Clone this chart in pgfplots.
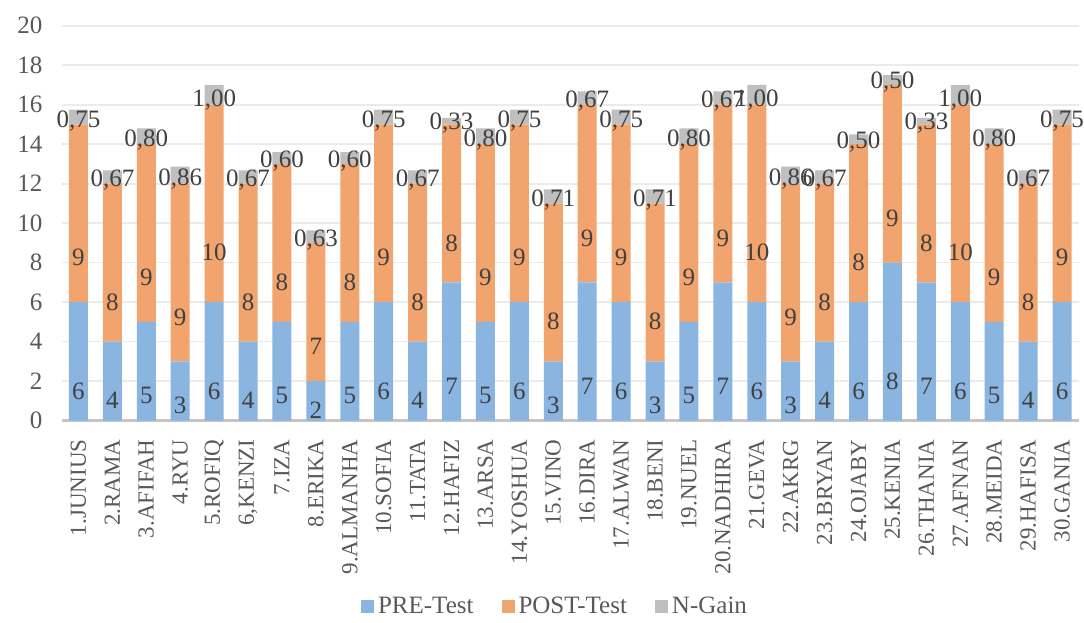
\documentclass[border=0pt]{standalone}
\usepackage{pgfplots}
\usepackage{pgfplotstable}
\pgfplotsset{compat=1.18}
\usepackage{fontspec}
\setmainfont{Liberation Serif}
\definecolor{cpre}{RGB}{139,181,225}
\definecolor{cpost}{RGB}{241,164,110}
\definecolor{cgain}{RGB}{191,191,191}
\definecolor{lbl}{RGB}{64,64,64}
\definecolor{tck}{RGB}{89,89,89}
\definecolor{grd}{RGB}{235,235,235}
\pgfplotstableread{
x pre post gain
0 6 9 0.75
1 4 8 0.67
2 5 9 0.80
3 3 9 0.86
4 6 10 1.00
5 4 8 0.67
6 5 8 0.60
7 2 7 0.63
8 5 8 0.60
9 6 9 0.75
10 4 8 0.67
11 7 8 0.33
12 5 9 0.80
13 6 9 0.75
14 3 8 0.71
15 7 9 0.67
16 6 9 0.75
17 3 8 0.71
18 5 9 0.80
19 7 9 0.67
20 6 10 1.00
21 3 9 0.86
22 4 8 0.67
23 6 8 0.50
24 8 9 0.50
25 7 8 0.33
26 6 10 1.00
27 5 9 0.80
28 4 8 0.67
29 6 9 0.75
}\data
\newcommand{\lf}{\fontsize{11.5}{13}\selectfont}
\newcommand{\nf}{\fontsize{12.5}{14}\selectfont}
\begin{document}
\begin{tikzpicture}
\begin{axis}[name=ax, scale only axis, width=508.75pt, height=197.4pt,
  ybar stacked, bar width=9.5pt,
  xmin=-0.5, xmax=29.5, ymin=0, ymax=20,
  ytick={0,2,...,20}, ymajorgrids, grid style={draw=grd, line width=0.9pt},
  xtick={0,...,29},
  xticklabels={1.JUNIUS,2.RAMA,3.AFIFAH,4.RYU,5.ROFIQ,{6,KENZI},7.IZA,8.ERIKA,9.ALMANHA,10.SOFIA,11.TATA,12.HAFIZ,13.ARSA,14.YOSHUA,15.VINO,16.DIRA,17.ALWAN,18.BENI,19.NUEL,20.NADHIRA,21.GEVA,22.AKRG,23.BRYAN,24.OJABY,25.KENIA,26.THANIA,27.AFNAN,28.MEIDA,29.HAFISA,30.GANIA},
  x tick label style={rotate=90, anchor=east, font=\lf, text=tck},
  xticklabel shift=6pt,
  y tick label style={font=\nf, text=tck},
  yticklabel shift=6pt,
  /pgf/number format/assume math mode=true,
  separate axis lines,
  axis x line*=bottom,
  x axis line style={draw=cgain!90, line width=1.3pt, -},
  axis y line*=left,
  y axis line style={draw=none},
  major tick length=0pt,
  ytick style={draw=none}, xtick style={draw=none},
  every node near coord/.append style={font=\nf, text=lbl, anchor=center},
  legend style={at={(0.486,-0.472)}, anchor=center, draw=none, fill=none, legend columns=3, font=\nf, text=tck,
    /tikz/every even column/.append style={column sep=12pt}},
  legend image code/.code={\draw[#1,draw=none] (0pt,-3.25pt) rectangle (6.5pt,3.25pt);},
]
\addplot[fill=cpre, draw=none, nodes near coords, point meta=explicit,
  visualization depends on={\thisrow{pre} \as \seg},
  every node near coord/.append style={shift={(axis direction cs:0,-\seg/4)}}]
  table[x=x, y=pre, meta=pre] {\data};
\addlegendentry{PRE-Test}
\addplot[fill=cpost, draw=none, nodes near coords, point meta=explicit,
  visualization depends on={\thisrow{post} \as \seg},
  every node near coord/.append style={shift={(axis direction cs:0,-\seg/4)}}]
  table[x=x, y=post, meta=post] {\data};
\addlegendentry{POST-Test}
\addplot[fill=cgain, draw=none, point meta=explicit,
  nodes near coords={\pgfmathprintnumber[fixed,fixed zerofill,precision=2,use comma]{\pgfplotspointmeta}},
  visualization depends on={\thisrow{gain} \as \seg},
  every node near coord/.append style={shift={(axis direction cs:0,-\seg/4)}}]
  table[x=x, y=gain, meta=gain] {\data};
\addlegendentry{N-Gain}
\end{axis}
\pgfresetboundingbox
\path ([shift={(-30.75pt,-100.75pt)}]ax.south west) rectangle ([shift={(2.5pt,12.85pt)}]ax.north east);
\end{tikzpicture}
\end{document}
